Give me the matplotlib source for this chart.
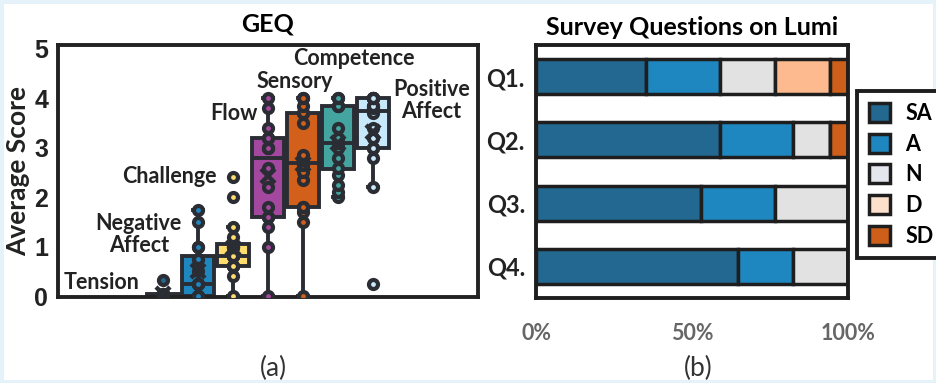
import matplotlib.pyplot as plt
from matplotlib.patches import Patch, Rectangle

# GEQ scores per category (estimated individual averages)
categories = ['Tension', 'Negative\nAffect', 'Challenge', 'Flow', 'Sensory', 'Competence', 'Positive\nAffect']
tension = [0]*11 + [0.05]*4 + [0.33]
negative_affect = [0, 0, 0, 0, 0, 0.25, 0.25, 0.25, 0.25, 0.5, 0.75, 0.75, 1.0, 1.0, 1.5, 1.75]
challenge = [0, 0.4, 0.6, 0.6, 0.6, 0.8, 0.8, 0.8, 0.8, 1.0, 1.0, 1.0, 1.2, 1.4, 2.0, 2.4]
flow = [0, 1.0, 1.4, 1.6, 1.6, 1.8, 2.2, 2.6, 3.0, 3.0, 3.0, 3.2, 3.2, 3.4, 3.8, 4.0]
sensory = [0, 1.5, 1.7, 1.8, 1.8, 2.35, 2.5, 2.65, 2.75, 2.85, 3.5, 3.7, 3.7, 3.85, 4.0, 4.0]
competence = [2.0, 2.1, 2.25, 2.45, 2.6, 2.8, 3.0, 3.1, 3.1, 3.2, 3.4, 3.85, 3.85, 3.85, 4.0, 4.0]
positive_affect = [0.25, 2.2, 2.8, 3.0, 3.0, 3.2, 3.4, 3.7, 3.8, 3.85, 3.85, 4.0, 4.0, 4.0, 4.0, 4.0]
geq_data = [tension, negative_affect, challenge, flow, sensory, competence, positive_affect]
box_colors = ['#1f6a90', '#1f87c0', '#fedd6e', '#a3489e', '#d2601a', '#44a4a0', '#c8e9fb']

# Survey answers (counts out of 17)
questions = ['Q1.', 'Q2.', 'Q3.', 'Q4.']
answers = ['SA', 'A', 'N', 'D', 'SD']
sa = [6, 10, 9, 11]
a = [4, 4, 4, 3]
n = [3, 2, 4, 3]
d = [3, 0, 0, 0]
sd = [1, 1, 0, 0]
bar_colors = ['#236890', '#1f87bf', '#e2e2e2', '#fdba8e', '#cd5f1a']
legend_colors = ['#236890', '#1f87bf', '#e4e6ed', '#fde0cc', '#cd5f1a']

dark = '#2a2d34'
fnt = 'Lato'

fig = plt.figure(figsize=(9.36, 3.83), dpi=100)
fig.patches.append(Rectangle((0, 0), 1, 1, transform=fig.transFigure, fill=False,
                             edgecolor='#e6f2fa', linewidth=5, zorder=0))

# ---- (a) GEQ boxplot
ax1 = fig.add_axes([58/936, 1-297/383, 420/936, 252/383])
pos = list(range(3, 3 + len(geq_data)))
bp = ax1.boxplot(geq_data, positions=pos, widths=0.9, patch_artist=True, whis=2.0,
                 showfliers=False, showmeans=True,
                 boxprops=dict(edgecolor=dark, linewidth=2.8),
                 medianprops=dict(color=dark, linewidth=2.8),
                 whiskerprops=dict(color=dark, linewidth=2.8),
                 capprops=dict(color=dark, linewidth=2.8),
                 meanprops=dict(marker='x', markeredgecolor=dark, markersize=10, markeredgewidth=3.2))
for patch, c in zip(bp['boxes'], box_colors):
    patch.set_facecolor(c)
for cap in bp['caps']:
    x0, x1 = cap.get_xdata()
    m = (x0 + x1) / 2
    cap.set_xdata([m - 0.15, m + 0.15])
for m in bp['means']:
    m.set_zorder(5)
for p, vals, c in zip(pos, geq_data, box_colors):
    ax1.plot([p]*len(vals), vals, 'o', ms=6.5, mfc=c, mec=dark, mew=3, zorder=4)

ax1.set_xlim(0, 12)
ax1.set_ylim(-0.02, 5.08)
ax1.set_xticks([])
ax1.set_yticks([0, 1, 2, 3, 4, 5])
ax1.set_yticklabels(['0', '1', '2', '3', '4', '5'], fontsize=18, fontweight='bold',
                    family='Liberation Sans', color='#222222')
ax1.tick_params(axis='y', length=0, pad=7)
for s in ax1.spines.values():
    s.set_linewidth(2.8)
    s.set_color('#222222')
ax1.set_ylabel('Average Score', fontsize=19, fontweight='bold', family=fnt, color='#222222', labelpad=3)
ax1.set_title('GEQ', fontsize=18, fontweight='bold', family=fnt, pad=10)

lbl_kw = dict(fontsize=15.5, fontweight='bold', family=fnt, color='#222222', va='center')
ax1.text(2.33, 0.28, categories[0], ha='right', **lbl_kw)
ax1.text(2.31, 1.24, categories[1], ha='center', linespacing=1.05, **lbl_kw)
ax1.text(4.54, 2.41, categories[2], ha='right', **lbl_kw)
ax1.text(5.71, 3.70, categories[3], ha='right', **lbl_kw)
ax1.text(6.76, 4.35, categories[4], ha='center', **lbl_kw)
ax1.text(8.46, 4.80, categories[5], ha='center', **lbl_kw)
ax1.text(10.67, 3.95, categories[6], ha='center', linespacing=1.05, **lbl_kw)

# ---- (b) survey stacked bars
ax2 = fig.add_axes([536/936, 1-298/383, 312/936, 253/383])
series = [sa, a, n, d, sd]
total = [sum(v) for v in zip(*series)]
left = [0]*len(questions)
ypos = list(range(len(questions)))
for vals, c, name in zip(series, bar_colors, answers):
    pct = [100*v/t for v, t in zip(vals, total)]
    ax2.barh(ypos, pct, left=left, height=0.55, color=c, edgecolor='#1e1e1e', linewidth=2.5, label=name)
    left = [l + p for l, p in zip(left, pct)]
ax2.set_xlim(0, 100)
ax2.set_ylim(3.5, -0.5)
ax2.set_yticks(ypos)
ax2.set_yticklabels(questions, fontsize=17, fontweight='bold', family=fnt, color='#222222')
ax2.set_xticks([0, 50, 100])
ax2.set_xticklabels(['0%', '50%', '100%'], fontsize=15.5, fontweight='bold', family=fnt, color='#666666')
ax2.tick_params(axis='both', length=0)
ax2.tick_params(axis='x', pad=18)
ax2.tick_params(axis='y', pad=8)
for s in ax2.spines.values():
    s.set_linewidth(2.8)
    s.set_color('#1e1e1e')
ax2.set_title('Survey Questions on Lumi', fontsize=18, fontweight='bold', family=fnt, pad=7)

handles = [Patch(facecolor=c, edgecolor='#1e1e1e', linewidth=2.5) for c in legend_colors]
leg = fig.legend(handles, answers, loc='upper left', bbox_to_anchor=(857/936, 1-91/383),
                 prop=dict(family=fnt, weight='bold', size=15.5), frameon=True, fancybox=False,
                 framealpha=1, handlelength=1.0, handleheight=1.0, labelspacing=0.45,
                 handletextpad=0.7, borderpad=0.55, borderaxespad=0)
leg.get_frame().set_edgecolor('#1e1e1e')
leg.get_frame().set_linewidth(2.8)

fig.text(273/936, 1-368/383, '(a)', ha='center', va='center', fontsize=19, family=fnt, color='#333333')
fig.text(698/936, 1-368/383, '(b)', ha='center', va='center', fontsize=19, family=fnt, color='#333333')

plt.savefig('out.png', dpi=100)
